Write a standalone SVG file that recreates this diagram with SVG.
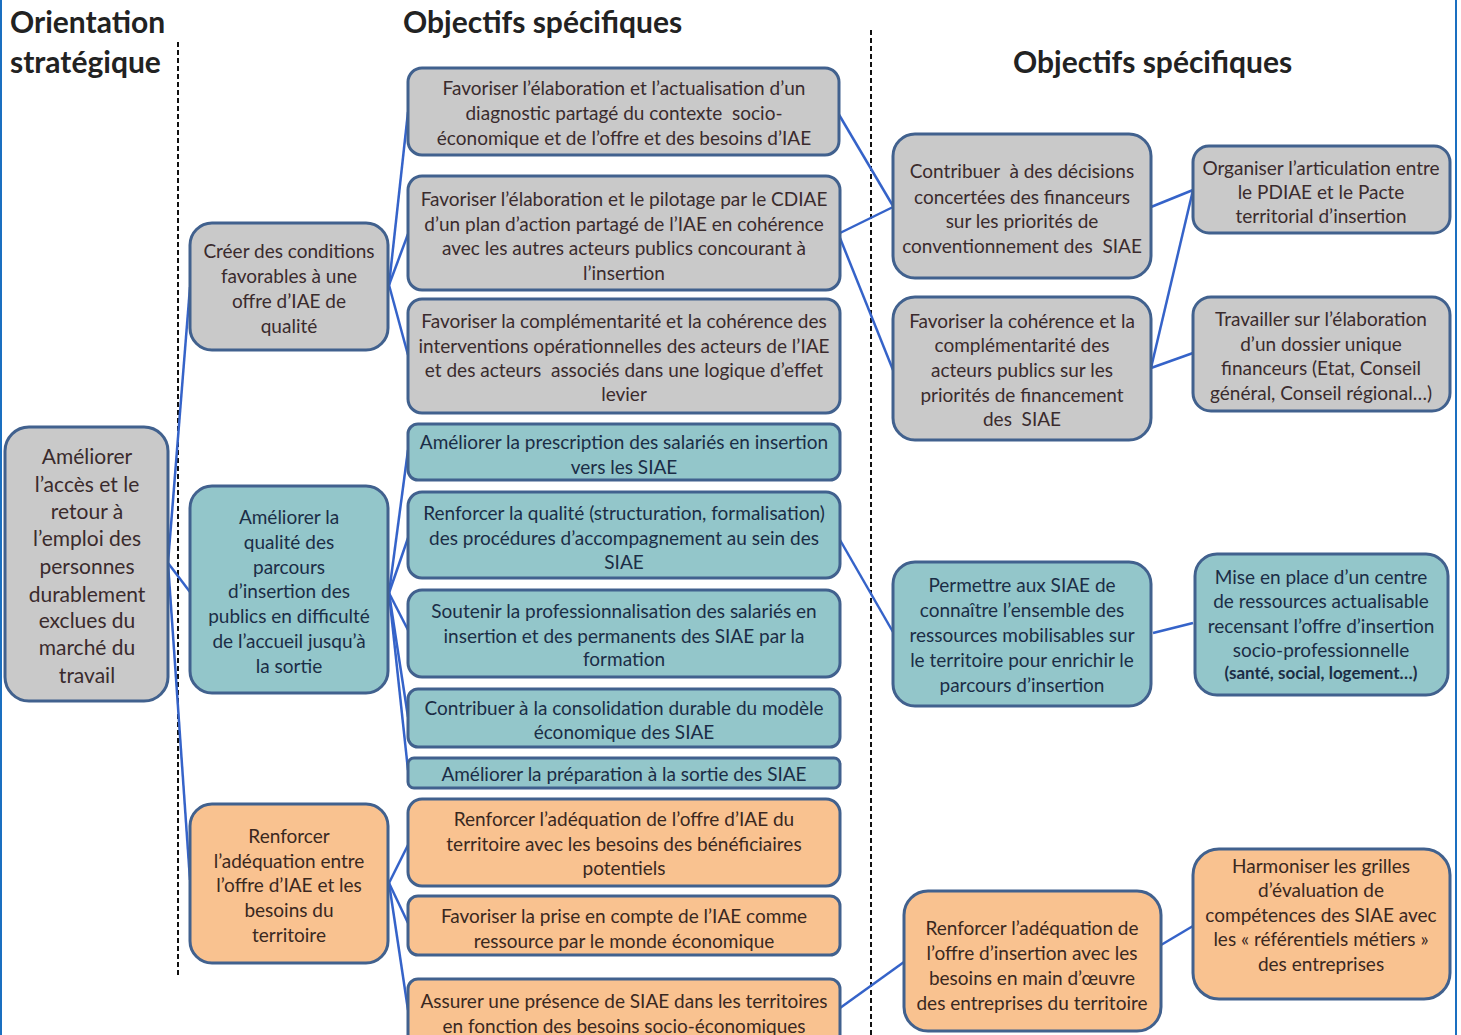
<svg xmlns="http://www.w3.org/2000/svg" width="1461" height="1035" viewBox="0 0 1461 1035">
<style>
.box{stroke:#41618e;stroke-width:3}
.g{fill:#c9c9c9}
.t{fill:#93c6ca}
.o{fill:#f9c290}
text{font-family:Lato,"Liberation Sans",sans-serif;font-size:19px;text-anchor:middle;dominant-baseline:central;white-space:pre}
.tg{fill:#3a2b2d}
.tt{fill:#1b2d46}
.to{fill:#3a281f}
.h{font-weight:bold;font-size:30px;text-anchor:start;fill:#222;dominant-baseline:auto}
.big{font-size:21px}
.sm{font-size:17px;font-weight:bold}
.dash{stroke:#111;stroke-width:2;stroke-dasharray:5 3;fill:none}
.c line{stroke:#3563c9;stroke-width:2.5}
</style>
<rect x="0" y="0" width="1461" height="1035" fill="#fff"/>
<line x1="1" y1="0" x2="1" y2="1035" stroke="#1a6fc0" stroke-width="2"/>
<line x1="1456" y1="0" x2="1456" y2="1035" stroke="#1a6fc0" stroke-width="2"/>
<g id="headers">
<text class="h" x="10" y="33">Orientation</text>
<text class="h" x="10" y="73">stratégique</text>
<text class="h" x="403" y="33">Objectifs spécifiques</text>
<text class="h" x="1013" y="73">Objectifs spécifiques</text>
</g>
<g id="separators">
<line class="dash" x1="178" y1="42" x2="178" y2="975"/>
<line class="dash" x1="871" y1="30" x2="871" y2="1035"/>
</g>
<g class="c" id="connectors">
<line x1="168" y1="563" x2="190" y2="287"/>
<line x1="168" y1="563" x2="190" y2="592"/>
<line x1="168" y1="563" x2="190" y2="880"/>
<line x1="389" y1="285" x2="408" y2="112"/>
<line x1="389" y1="285" x2="408" y2="234"/>
<line x1="389" y1="285" x2="408" y2="355"/>
<line x1="389" y1="593" x2="408" y2="450"/>
<line x1="389" y1="593" x2="408" y2="538"/>
<line x1="389" y1="593" x2="408" y2="630"/>
<line x1="389" y1="593" x2="408" y2="717"/>
<line x1="389" y1="593" x2="408" y2="770"/>
<line x1="389" y1="883" x2="408" y2="845"/>
<line x1="389" y1="883" x2="408" y2="923"/>
<line x1="389" y1="883" x2="408" y2="1010"/>
<line x1="838" y1="113" x2="893" y2="206"/>
<line x1="840" y1="233" x2="893" y2="207"/>
<line x1="840" y1="238" x2="893" y2="370"/>
<line x1="840" y1="540" x2="893" y2="632"/>
<line x1="840" y1="1008" x2="904" y2="962"/>
<line x1="1151" y1="207" x2="1193" y2="190"/>
<line x1="1151" y1="368" x2="1193" y2="190"/>
<line x1="1151" y1="368" x2="1193" y2="353"/>
<line x1="1153" y1="633" x2="1193" y2="623"/>
<line x1="1161" y1="945" x2="1193" y2="926"/>
</g>
<g id="root">
<rect class="box g" x="5" y="427" width="163" height="274" rx="24"/>
<text class="tg big" x="87" y="455">Améliorer</text>
<text class="tg big" x="87" y="483">l’accès et le</text>
<text class="tg big" x="87" y="510">retour à</text>
<text class="tg big" x="87" y="537">l’emploi des</text>
<text class="tg big" x="87" y="565">personnes</text>
<text class="tg big" x="87" y="593">durablement</text>
<text class="tg big" x="87" y="619">exclues du</text>
<text class="tg big" x="87" y="646">marché du</text>
<text class="tg big" x="87" y="674">travail</text>
</g>
<g id="n-creer">
<rect class="box g" x="190" y="223" width="198" height="127" rx="22"/>
<text class="tg" x="289" y="250">Créer des conditions</text>
<text class="tg" x="289" y="275">favorables à une</text>
<text class="tg" x="289" y="300">offre d’IAE de</text>
<text class="tg" x="289" y="325">qualité</text>
</g>
<g id="n-qualite">
<rect class="box t" x="190" y="486" width="198" height="207" rx="22"/>
<text class="tt" x="289" y="516">Améliorer la</text>
<text class="tt" x="289" y="541">qualité des</text>
<text class="tt" x="289" y="566">parcours</text>
<text class="tt" x="289" y="590">d’insertion des</text>
<text class="tt" x="289" y="615">publics en difficulté</text>
<text class="tt" x="289" y="640">de l’accueil jusqu’à</text>
<text class="tt" x="289" y="665">la sortie</text>
</g>
<g id="n-adequation">
<rect class="box o" x="190" y="804" width="198" height="159" rx="22"/>
<text class="to" x="289" y="835">Renforcer</text>
<text class="to" x="289" y="860">l’adéquation entre</text>
<text class="to" x="289" y="884">l’offre d’IAE et les</text>
<text class="to" x="289" y="909">besoins du</text>
<text class="to" x="289" y="934">territoire</text>
</g>
<g id="a1">
<rect class="box g" x="408" y="68" width="431" height="87" rx="14"/>
<text class="tg" x="624" y="87">Favoriser l’élaboration et l’actualisation d’un</text>
<text class="tg" x="624" y="112">diagnostic partagé du contexte  socio-</text>
<text class="tg" x="624" y="137">économique et de l’offre et des besoins d’IAE</text>
</g>
<g id="a2">
<rect class="box g" x="408" y="176" width="432" height="114" rx="14"/>
<text class="tg" x="624" y="198">Favoriser l’élaboration et le pilotage par le CDIAE</text>
<text class="tg" x="624" y="223">d’un plan d’action partagé de l’IAE en cohérence</text>
<text class="tg" x="624" y="247">avec les autres acteurs publics concourant à</text>
<text class="tg" x="624" y="272">l’insertion</text>
</g>
<g id="a3">
<rect class="box g" x="408" y="299" width="432" height="114" rx="14"/>
<text class="tg" x="624" y="320">Favoriser la complémentarité et la cohérence des</text>
<text class="tg" x="624" y="345">interventions opérationnelles des acteurs de l’IAE</text>
<text class="tg" x="624" y="369">et des acteurs  associés dans une logique d’effet</text>
<text class="tg" x="624" y="393">levier</text>
</g>
<g id="b1">
<rect class="box t" x="408" y="424" width="432" height="56" rx="10"/>
<text class="tt" x="624" y="441">Améliorer la prescription des salariés en insertion</text>
<text class="tt" x="624" y="466">vers les SIAE</text>
</g>
<g id="b2">
<rect class="box t" x="408" y="492" width="432" height="86" rx="14"/>
<text class="tt" x="624" y="512">Renforcer la qualité (structuration, formalisation)</text>
<text class="tt" x="624" y="537">des procédures d’accompagnement au sein des</text>
<text class="tt" x="624" y="561">SIAE</text>
</g>
<g id="b3">
<rect class="box t" x="408" y="590" width="432" height="87" rx="14"/>
<text class="tt" x="624" y="610">Soutenir la professionnalisation des salariés en</text>
<text class="tt" x="624" y="635">insertion et des permanents des SIAE par la</text>
<text class="tt" x="624" y="658">formation</text>
</g>
<g id="b4">
<rect class="box t" x="408" y="689" width="432" height="58" rx="10"/>
<text class="tt" x="624" y="707">Contribuer à la consolidation durable du modèle</text>
<text class="tt" x="624" y="731">économique des SIAE</text>
</g>
<g id="b5">
<rect class="box t" x="408" y="758" width="432" height="30" rx="6"/>
<text class="tt" x="624" y="773">Améliorer la préparation à la sortie des SIAE</text>
</g>
<g id="c1">
<rect class="box o" x="408" y="799" width="432" height="87" rx="14"/>
<text class="to" x="624" y="818">Renforcer l’adéquation de l’offre d’IAE du</text>
<text class="to" x="624" y="843">territoire avec les besoins des bénéficiaires</text>
<text class="to" x="624" y="867">potentiels</text>
</g>
<g id="c2">
<rect class="box o" x="408" y="896" width="432" height="59" rx="10"/>
<text class="to" x="624" y="915">Favoriser la prise en compte de l’IAE comme</text>
<text class="to" x="624" y="940">ressource par le monde économique</text>
</g>
<g id="c3">
<rect class="box o" x="408" y="979" width="432" height="70" rx="10"/>
<text class="to" x="624" y="1000">Assurer une présence de SIAE dans les territoires</text>
<text class="to" x="624" y="1025">en fonction des besoins socio-économiques</text>
</g>
<g id="d1">
<rect class="box g" x="893" y="134" width="258" height="144" rx="22"/>
<text class="tg" x="1022" y="170">Contribuer  à des décisions</text>
<text class="tg" x="1022" y="196">concertées des financeurs</text>
<text class="tg" x="1022" y="220">sur les priorités de</text>
<text class="tg" x="1022" y="245">conventionnement des  SIAE</text>
</g>
<g id="d2">
<rect class="box g" x="893" y="297" width="258" height="143" rx="22"/>
<text class="tg" x="1022" y="320">Favoriser la cohérence et la</text>
<text class="tg" x="1022" y="344">complémentarité des</text>
<text class="tg" x="1022" y="369">acteurs publics sur les</text>
<text class="tg" x="1022" y="394">priorités de financement</text>
<text class="tg" x="1022" y="418">des  SIAE</text>
</g>
<g id="e1">
<rect class="box g" x="1193" y="146" width="257" height="87" rx="16"/>
<text class="tg" x="1321" y="167">Organiser l’articulation entre</text>
<text class="tg" x="1321" y="191">le PDIAE et le Pacte</text>
<text class="tg" x="1321" y="215">territorial d’insertion</text>
</g>
<g id="e2">
<rect class="box g" x="1193" y="297" width="257" height="114" rx="18"/>
<text class="tg" x="1321" y="318">Travailler sur l’élaboration</text>
<text class="tg" x="1321" y="343">d’un dossier unique</text>
<text class="tg" x="1321" y="367">financeurs (Etat, Conseil</text>
<text class="tg" x="1321" y="392">général, Conseil régional…)</text>
</g>
<g id="d3">
<rect class="box t" x="893" y="562" width="258" height="144" rx="22"/>
<text class="tt" x="1022" y="584">Permettre aux SIAE de</text>
<text class="tt" x="1022" y="609">connaître l’ensemble des</text>
<text class="tt" x="1022" y="634">ressources mobilisables sur</text>
<text class="tt" x="1022" y="659">le territoire pour enrichir le</text>
<text class="tt" x="1022" y="684">parcours d’insertion</text>
</g>
<g id="e3">
<rect class="box t" x="1195" y="554" width="253" height="141" rx="22"/>
<text class="tt" x="1321" y="576">Mise en place d’un centre</text>
<text class="tt" x="1321" y="600">de ressources actualisable</text>
<text class="tt" x="1321" y="625">recensant l’offre d’insertion</text>
<text class="tt" x="1321" y="649">socio-professionnelle</text>
<text class="tt sm" x="1321" y="672">(santé, social, logement…)</text>
</g>
<g id="d4">
<rect class="box o" x="904" y="891" width="257" height="140" rx="24"/>
<text class="to" x="1032" y="927">Renforcer l’adéquation de</text>
<text class="to" x="1032" y="952">l’offre d’insertion avec les</text>
<text class="to" x="1032" y="977">besoins en main d’œuvre</text>
<text class="to" x="1032" y="1002">des entreprises du territoire</text>
</g>
<g id="e4">
<rect class="box o" x="1193" y="849" width="257" height="150" rx="26"/>
<text class="to" x="1321" y="865">Harmoniser les grilles</text>
<text class="to" x="1321" y="889">d’évaluation de</text>
<text class="to" x="1321" y="914">compétences des SIAE avec</text>
<text class="to" x="1321" y="938">les « référentiels métiers »</text>
<text class="to" x="1321" y="963">des entreprises</text>
</g>
</svg>
